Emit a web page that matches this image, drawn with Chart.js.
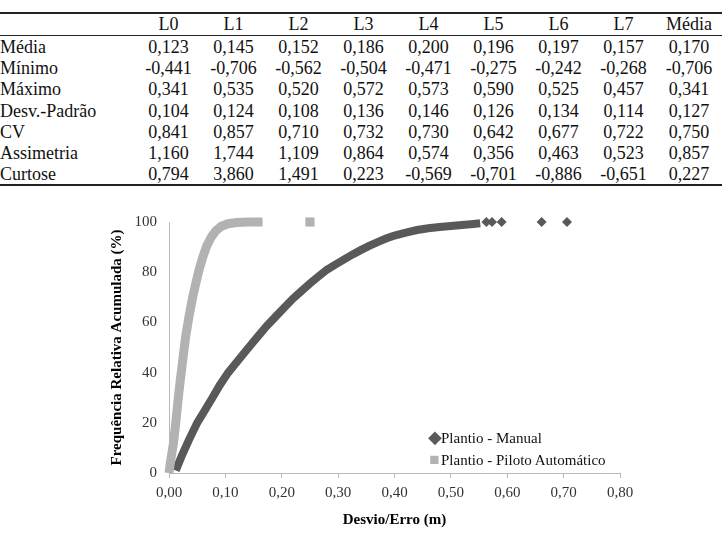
<!DOCTYPE html>
<html lang="pt">
<head>
<meta charset="utf-8">
<title>Frequência relativa acumulada do desvio</title>
<script src="https://cdn.jsdelivr.net/npm/chart.js@4.4.1/dist/chart.umd.min.js"></script>
<style>
  html, body { margin: 0; padding: 0; background: #fff; }
  #page {
    position: relative;
    width: 728px;
    height: 535px;
    overflow: hidden;
    font-family: "Liberation Serif", Tinos, "DejaVu Serif", serif;
    color: #111;
  }
  #stats {
    position: absolute;
    left: 0;
    top: 12px;
    width: 722px;
    border-collapse: collapse;
    table-layout: fixed;
    font-size: 18px;
  }
  #stats thead tr { border-top: 2px solid #222; border-bottom: 1px solid #222; }
  #stats tbody tr:last-child { border-bottom: 2px solid #222; }
  #stats th { font-weight: normal; height: 21px; padding: 0; line-height: 21px; text-align: center; }
  #stats td { height: 20.2px; padding: 1px 0 0 0; line-height: 20.2px; text-align: center; }
  #stats td.label { text-align: left; }
  #chart-box {
    position: absolute;
    left: 0;
    top: 195px;
    width: 728px;
    height: 340px;
  }
  #legend {
    position: absolute;
    left: 428px;
    top: 427px;
    font-size: 15px;
    line-height: 21px;
    color: #111;
  }
  #legend .item { white-space: nowrap; }
  #legend .mark { display: inline-block; width: 13px; text-align: center; }
</style>
</head>
<body>
<div id="page">
  <table id="stats">
    <colgroup>
      <col style="width:136px">
      <col style="width:65px"><col style="width:65px"><col style="width:65px"><col style="width:65px">
      <col style="width:65px"><col style="width:65px"><col style="width:65px"><col style="width:65px">
      <col style="width:66px">
    </colgroup>
    <thead><tr id="stats-head"></tr></thead>
    <tbody id="stats-body"></tbody>
  </table>

  <div id="chart-box"><canvas id="cdf-chart"></canvas></div>
  <div id="legend"></div>
</div>

<script>
// table
const columns = ["L0", "L1", "L2", "L3", "L4", "L5", "L6", "L7", "Média"];
const rowLabels = ["Média", "Mínimo", "Máximo", "Desv.-Padrão", "CV", "Assimetria", "Curtose"];
const media = [0.123, 0.145, 0.152, 0.186, 0.200, 0.196, 0.197, 0.157, 0.170];
const minimo = [-0.441, -0.706, -0.562, -0.504, -0.471, -0.275, -0.242, -0.268, -0.706];
const maximo = [0.341, 0.535, 0.520, 0.572, 0.573, 0.590, 0.525, 0.457, 0.341];
const desvPadrao = [0.104, 0.124, 0.108, 0.136, 0.146, 0.126, 0.134, 0.114, 0.127];
const cv = [0.841, 0.857, 0.710, 0.732, 0.730, 0.642, 0.677, 0.722, 0.750];
const assimetria = [1.160, 1.744, 1.109, 0.864, 0.574, 0.356, 0.463, 0.523, 0.857];
const curtose = [0.794, 3.860, 1.491, 0.223, -0.569, -0.701, -0.886, -0.651, 0.227];

// chart: cumulative relative frequency (%) vs deviation (m)
const manualX = [0.012, 0.022, 0.035, 0.050, 0.065, 0.077, 0.090, 0.105, 0.125, 0.145, 0.160, 0.173,
  0.190, 0.205, 0.220, 0.235, 0.250, 0.265, 0.280, 0.295, 0.310, 0.325, 0.340, 0.355, 0.370, 0.385,
  0.400, 0.420, 0.440, 0.460, 0.480, 0.500, 0.520, 0.540, 0.552];
const manualY = [1, 6.5, 13, 20, 25.5, 30, 35, 40, 45.5, 51, 55, 58.5,
  62.5, 66, 69.5, 72.5, 75.5, 78.3, 81, 83, 85, 87, 88.8, 90.5, 92, 93.4,
  94.6, 95.8, 96.8, 97.5, 98, 98.4, 98.8, 99.2, 99.5];
const manualTailX = [0.563, 0.573, 0.590, 0.661, 0.706];
const manualTailY = [100, 100, 100, 100, 100];

const pilotX = [0.000, 0.003, 0.008, 0.012, 0.016, 0.020, 0.025, 0.030, 0.036, 0.042, 0.048,
  0.054, 0.060, 0.067, 0.075, 0.083, 0.093, 0.105, 0.120, 0.140, 0.166];
const pilotY = [0, 5, 12, 20, 29, 37, 46, 55, 63, 70, 76,
  81.5, 86, 90.5, 94, 96.5, 98.3, 99.3, 99.8, 100, 100];
const pilotTailX = [0.250];
const pilotTailY = [100];

const seriesNames = ["Plantio - Manual", "Plantio - Piloto Automático"];

const palette = {
  manual: "#595959",
  pilot: "#b2b2b2",
  axis: "#b8b8b8",
  tick: "#333333",
  ink: "#000000",
};
const serif = "'Liberation Serif', Tinos, 'DejaVu Serif', serif";

function formatNumber(value) {
  return value.toFixed(3).replace(".", ",");
}

function renderTable() {
  const head = document.getElementById("stats-head");
  head.innerHTML = "<th></th>" + columns.map((name) => `<th>${name}</th>`).join("");

  const rows = [media, minimo, maximo, desvPadrao, cv, assimetria, curtose];
  document.getElementById("stats-body").innerHTML = rows
    .map(
      (values, i) => `
        <tr>
          <td class="label">${rowLabels[i]}</td>
          ${values.map((v) => `<td>${formatNumber(v)}</td>`).join("")}
        </tr>
      `
    )
    .join("");
}

function toPoints(xs, ys) {
  return xs.map((x, i) => ({ x, y: ys[i] }));
}

function renderLegend() {
  document.getElementById("legend").innerHTML = `
    <div class="item"><span class="mark" style="color:${palette.manual};font-size:18px">&#9670;</span>${seriesNames[0]}</div>
    <div class="item"><span class="mark" style="color:${palette.pilot};font-size:17px">&#9632;</span>${seriesNames[1]}</div>
  `;
}

function renderChart() {
  const context = document.getElementById("cdf-chart");
  new Chart(context, {
    type: "scatter",
    data: {
      datasets: [
        {
          label: seriesNames[0],
          data: toPoints(manualX, manualY),
          showLine: true,
          borderColor: palette.manual,
          borderWidth: 8,
          pointRadius: 0,
          order: 2,
          clip: false,
        },
        {
          label: seriesNames[0],
          data: toPoints(manualTailX, manualTailY),
          pointStyle: "rectRot",
          pointRadius: 5,
          backgroundColor: palette.manual,
          borderWidth: 0,
          order: 2,
          clip: false,
        },
        {
          label: seriesNames[1],
          data: toPoints(pilotX, pilotY),
          showLine: true,
          borderColor: palette.pilot,
          borderWidth: 9,
          pointRadius: 0,
          order: 1,
          clip: false,
        },
        {
          label: seriesNames[1],
          data: toPoints(pilotTailX, pilotTailY),
          pointStyle: "rect",
          pointRadius: 6.5,
          backgroundColor: palette.pilot,
          borderWidth: 0,
          order: 1,
          clip: false,
        },
      ],
    },
    options: {
      responsive: true,
      maintainAspectRatio: false,
      animation: false,
      layout: { padding: { top: 27, right: 108, left: 0, bottom: 0 } },
      plugins: {
        legend: { display: false },
        tooltip: { enabled: false },
      },
      scales: {
        x: {
          type: "linear",
          min: 0,
          max: 0.8,
          ticks: {
            stepSize: 0.1,
            color: palette.tick,
            font: { family: serif, size: 15 },
            padding: 6,
            callback: (value) => value.toFixed(2).replace(".", ","),
          },
          grid: { drawOnChartArea: false, drawTicks: true, tickLength: 5, color: palette.axis },
          border: { color: palette.axis },
          title: {
            display: true,
            text: "Desvio/Erro (m)",
            color: palette.ink,
            font: { family: serif, size: 15, weight: "bold" },
            padding: { top: 0, bottom: 6 },
          },
          afterFit: (scale) => {
            scale.height = 62;
          },
        },
        y: {
          min: 0,
          max: 100,
          ticks: {
            stepSize: 20,
            color: palette.tick,
            font: { family: serif, size: 15 },
            padding: 12,
          },
          grid: { drawOnChartArea: false, drawTicks: false, color: palette.axis },
          border: { color: palette.axis },
          title: {
            display: true,
            text: "Frequência Relativa Acumulada (%)",
            color: palette.ink,
            font: { family: serif, size: 15, weight: "bold" },
            padding: { top: 108, bottom: 0 },
          },
          afterFit: (scale) => {
            scale.width = 169;
          },
        },
      },
    },
  });
}

renderTable();
renderLegend();
renderChart();
</script>
</body>
</html>
